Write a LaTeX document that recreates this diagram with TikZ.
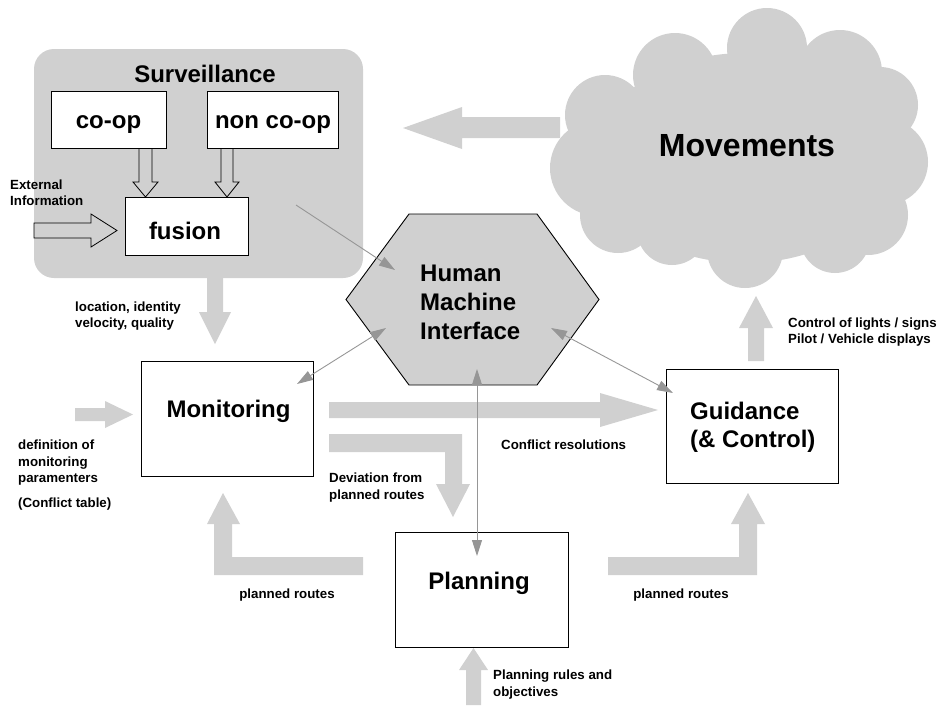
\documentclass[tikz,border=0pt]{standalone}
\usepackage{fontspec}
\setmainfont{Liberation Sans}
\usetikzlibrary{arrows.meta}
\definecolor{lg}{RGB}{208,208,208}
\definecolor{cg}{RGB}{150,150,150}
\begin{document}
\begin{tikzpicture}[x=1pt,y=-1pt,
  box/.style={draw=black,line width=1pt,fill=white,inner sep=0pt},
  big/.style={font=\fontsize{24}{28}\selectfont\bfseries,inner sep=0pt},
  small/.style={font=\fontsize{13.3}{16}\selectfont\bfseries,inner sep=0pt},
  fat/.style={fill=lg,draw=none},
  hollow/.style={draw=black,line width=0.8pt,line join=miter},
  tip/.tip={Triangle[length=16pt,width=10pt]},
  conn/.style={draw=cg,line width=0.9pt,-tip},
  conntwo/.style={draw=cg,line width=0.9pt,tip-tip}]
\useasboundingbox (0,0) rectangle (939,705);

% Surveillance background
\node[fill=lg,rounded corners=20pt,minimum width=329pt,minimum height=229pt,inner sep=0pt] (surv) at (198.5,163.5) {};

% fat arrows
\fill[fat] (207,277)--(207,312)--(199,312)--(215,344)--(231,312)--(223,312)--(223,277)--cycle;
\fill[fat] (560,117)--(462,117)--(462,107)--(403,128)--(462,149)--(462,138)--(560,138)--cycle;
\fill[fat] (75,408)--(105,408)--(105,401)--(133,414.5)--(105,428)--(105,421)--(75,421)--cycle;
\fill[fat] (329,402)--(600,402)--(600,393)--(658,410)--(600,427)--(600,418)--(329,418)--cycle;
\fill[fat] (329,434)--(462,434)--(462,484)--(470,484)--(453,517)--(436,484)--(445,484)--(445,452)--(329,452)--cycle;
\fill[fat] (363,557)--(363,575)--(214,575)--(214,524)--(207,524)--(223,493)--(240,524)--(232,524)--(232,557)--cycle;
\fill[fat] (608,557)--(739,557)--(739,524)--(731,524)--(748,493)--(765,524)--(757,524)--(757,575)--(608,575)--cycle;
\fill[fat] (748,361)--(748,328)--(739,328)--(756,296)--(773,328)--(764,328)--(764,361)--cycle;
\fill[fat] (466,705)--(466,670)--(459,670)--(473.5,648)--(488,670)--(481,670)--(481,705)--cycle;

% cloud
\fill[lg] (745,158) ellipse [x radius=150pt, y radius=105pt];
\foreach \cx/\cy/\r in {675/75/42, 767/48/40, 840/72/42, 880/105/38, 885/162/43, 868/215/40,
  835/238/35, 745/250/38, 672/230/35, 618/215/38, 598/168/48, 605/115/40}
  \fill[lg] (\cx,\cy) circle [radius=\r pt];
\node[font=\fontsize{32}{36}\selectfont\bfseries,inner sep=0pt,anchor=base] (mov) at (747,156) {Movements};

% hexagon
\filldraw[fill=lg,draw=black,line width=0.9pt] (409,214)--(537,214)--(599,299.5)--(537,385)--(409,385)--(346,299.5)--cycle;
\coordinate (hmi) at (473,299.5);

% boxes
\node[box,minimum width=115pt,minimum height=57pt] (coop) at (108.5,119.5) {};
\node[box,minimum width=131pt,minimum height=57pt] (ncoop) at (272.5,119.5) {};
\node[box,minimum width=123pt,minimum height=58pt] (fus) at (186.5,226) {};
\node[box,minimum width=172pt,minimum height=115pt] (mon) at (227,418.5) {};
\node[box,minimum width=172pt,minimum height=114pt] (gui) at (752,426) {};
\node[box,minimum width=173pt,minimum height=115pt] (pla) at (481.5,589.5) {};

% hollow arrows
\draw[hollow] (139,148)--(139,182)--(133,182)--(145.5,197)--(158,182)--(152,182)--(152,148);
\draw[hollow] (221,148)--(221,182)--(215,182)--(227,197)--(239,182)--(233,182)--(233,148);
\draw[hollow] (34,223)--(91,223)--(91,214)--(117,230.5)--(91,247)--(91,238)--(34,238)--cycle;

% thin connectors
\coordinate (s1) at (296,205);
\coordinate (h1) at (395,270);
\coordinate (m1) at (297,384);
\coordinate (h2) at (386,328);
\coordinate (h3) at (551,328);
\coordinate (g1) at (673,393);
\coordinate (h4) at (477,369);
\coordinate (p1) at (477,556);
\draw[conn] (s1) -- (h1);
\draw[conntwo] (m1) -- (h2);
\draw[conntwo] (h3) -- (g1);
\draw[conntwo] (h4) -- (p1);

% texts
\node[big,anchor=base] (survt) at (205,82) {Surveillance};
\node[big,anchor=base] (coopt) at (108.5,128.5) {co-op};
\node[big,anchor=base] (ncoopt) at (273,128.5) {non co-op};
\node[big,anchor=base] (fust) at (185,239) {fusion};
\node[small,anchor=base west] (ext1) at (10,189) {External};
\node[small,anchor=base west] (ext2) at (10,205) {Information};
\node[small,anchor=base west] (loc1) at (75,311) {location, identity};
\node[small,anchor=base west] (loc2) at (75,327.5) {velocity, quality};
\node[big,anchor=base] (mont) at (228.5,417) {Monitoring};
\node[small,anchor=base west] (def1) at (18,449.5) {definition of};
\node[small,anchor=base west] (def2) at (18,466) {monitoring};
\node[small,anchor=base west] (def3) at (18,482.5) {paramenters};
\node[small,anchor=base west] (def4) at (18,507) {(Conflict table)};
\node[small,anchor=base west] (dev1) at (329,482.5) {Deviation from};
\node[small,anchor=base west] (dev2) at (329,499.5) {planned routes};
\node[small,anchor=base west] (conf) at (501,449.5) {Conflict resolutions};
\node[big,anchor=base west] (guit1) at (690,419) {Guidance};
\node[big,anchor=base west] (guit2) at (690,447) {(\& Control)};
\node[small,anchor=base west] (ctl1) at (788,327) {Control of lights / signs};
\node[small,anchor=base west] (ctl2) at (788,343.5) {Pilot / Vehicle displays};
\node[big,anchor=base] (plat) at (479,589) {Planning};
\node[small,anchor=base] (pr1) at (287,598) {planned routes};
\node[small,anchor=base] (pr2) at (681,598) {planned routes};
\node[small,anchor=base west] (rul1) at (493,679) {Planning rules and};
\node[small,anchor=base west] (rul2) at (493,696) {objectives};
\node[big,anchor=base west] (hmi1) at (420,281) {Human};
\node[big,anchor=base west] (hmi2) at (420,310) {Machine};
\node[big,anchor=base west] (hmi3) at (420,339) {Interface};
\end{tikzpicture}
\end{document}
